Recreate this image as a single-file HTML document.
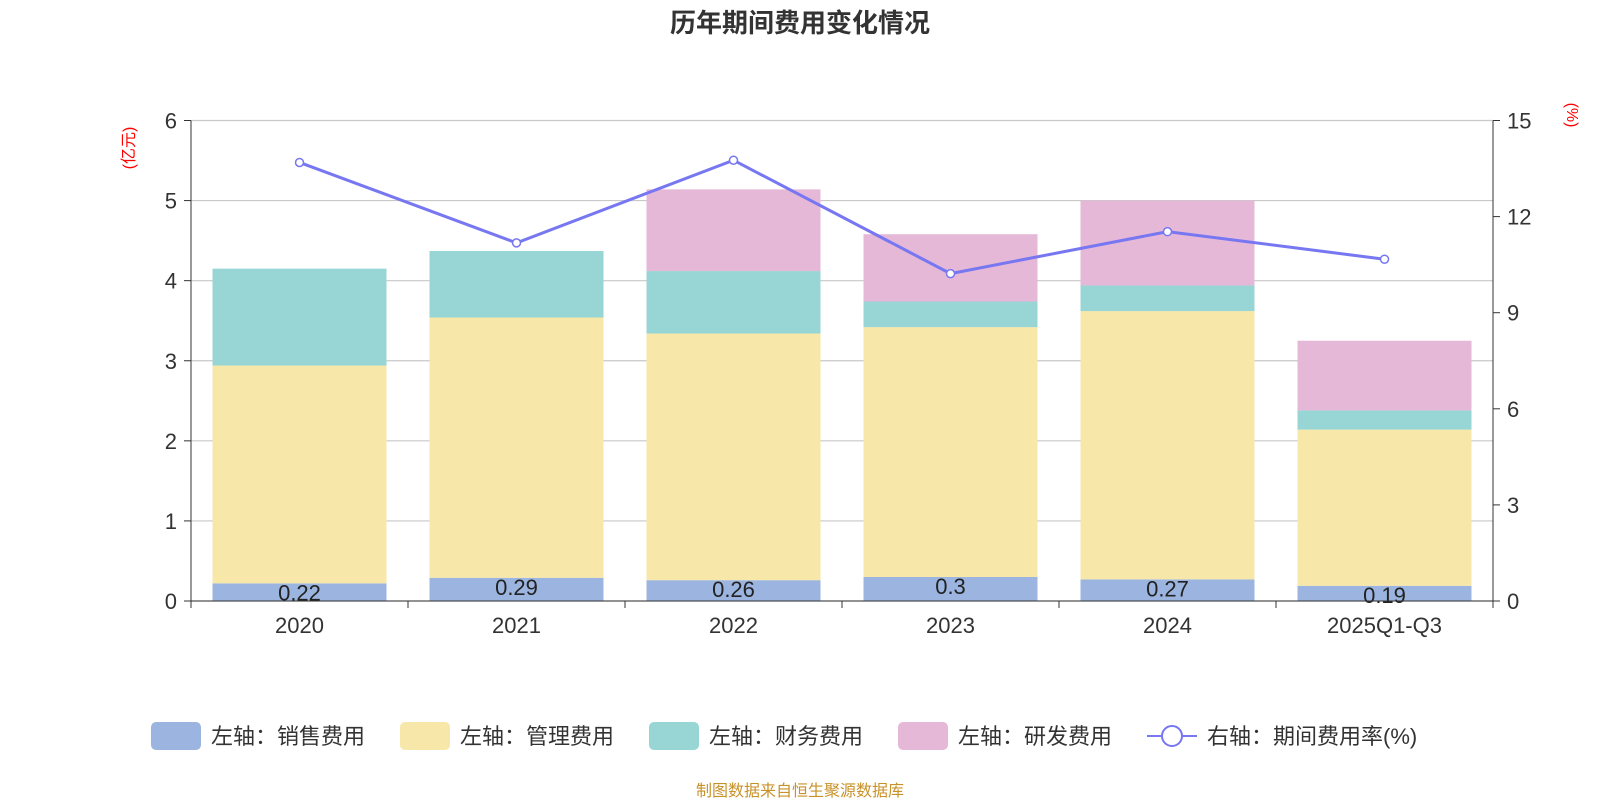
<!DOCTYPE html>
<html><head><meta charset="utf-8"><style>
body{margin:0;background:#fff;width:1600px;height:800px;overflow:hidden}
svg{font-family:"Liberation Sans","Noto Sans CJK SC",sans-serif}
</style></head><body>
<svg id="c" width="1600" height="800"></svg>
<script>
const categories=["2020","2021","2022","2023","2024","2025Q1-Q3"];
const sales=[0.22,0.29,0.26,0.30,0.27,0.19];
const mgmt=[2.72,3.25,3.08,3.12,3.35,1.95];
const fin=[1.21,0.83,0.78,0.32,0.32,0.24];
const rd=[0,0,1.02,0.84,1.06,0.87];
const rate=[13.69,11.18,13.76,10.22,11.53,10.67];
const leftTicks=[0,1,2,3,4,5,6];
const rightTicks=[0,3,6,9,12,15];
const salesLabels=["0.22","0.29","0.26","0.3","0.27","0.19"];

const NS="http://www.w3.org/2000/svg",svg=document.getElementById('c');
function el(t,a,txt){const e=document.createElementNS(NS,t);for(const k in a)e.setAttribute(k,a[k]);if(txt!=null)e.textContent=txt;svg.appendChild(e);return e;}
const X0=191,X1=1493,Y0=601,Y1=120.5;
const yL=v=>Y0-(v/6)*(Y0-Y1);
const yR=v=>Y0-(v/15)*(Y0-Y1);
const band=(X1-X0)/categories.length;
const xc=i=>X0+band*(i+0.5);
const bw=174;

let t=el('text',{x:800,y:32,'text-anchor':'middle','font-size':26,'font-weight':'bold',fill:'#333'},'历年期间费用变化情况');

leftTicks.forEach(v=>{
 const g=el('line',{x1:X0,x2:X1,y1:yL(v),y2:yL(v),stroke:'#c8c8c8','stroke-width':1.2});
 
 const l=el('text',{x:X0-14,y:yL(v)+8,'text-anchor':'end','font-size':22,fill:'#333'},v);
 
 el('line',{x1:X0-7,x2:X0,y1:yL(v),y2:yL(v),stroke:'#333'});
});
rightTicks.forEach(v=>{
 const l=el('text',{x:X1+14,y:yR(v)+8,'font-size':22,fill:'#333'},v);
 
 el('line',{x1:X1,x2:X1+7,y1:yR(v),y2:yR(v),stroke:'#333'});
});
el('line',{x1:X0,x2:X0,y1:Y1,y2:Y0,stroke:'#333'});
el('line',{x1:X1,x2:X1,y1:Y1,y2:Y0,stroke:'#333'});
let u=el('text',{x:0,y:0,'font-size':16,fill:'red',transform:`translate(134,148) rotate(-90)`,'text-anchor':'middle'},'(亿元)');

u=el('text',{x:0,y:0,'font-size':16,fill:'red',transform:`translate(1567,115) rotate(90)`,'text-anchor':'middle'},'(%)');


const series=[[sales,'#9bb5e0','sales'],[mgmt,'#f7e7a8','mgmt'],[fin,'#98d5d5','finance'],[rd,'#e6b8d8','rd']];
categories.forEach((c,i)=>{
 let base=0;
 series.forEach(([arr,col,nm])=>{
  const v=arr[i];if(v>0){
   const r=el('rect',{x:xc(i)-bw/2,y:yL(base+v),width:bw,height:yL(base)-yL(base+v),fill:col});
   
  }
  base+=v;
 });
 const s=el('text',{x:xc(i),y:yL(sales[i])+17,'text-anchor':'middle','font-size':22,fill:'#222'},salesLabels[i]);
 
 const cl=el('text',{x:xc(i),y:Y0+32,'text-anchor':'middle','font-size':22,fill:'#333'},c);
 
});
el('line',{x1:X0,x2:X1,y1:Y0,y2:Y0,stroke:'#333'});
for(let i=0;i<=categories.length;i++)el('line',{x1:X0+band*i,x2:X0+band*i,y1:Y0,y2:Y0+7,stroke:'#333'});
const pl=el('polyline',{points:rate.map((v,i)=>xc(i)+','+yR(v)).join(' '),fill:'none',stroke:'#7777f2','stroke-width':3});

rate.forEach((v,i)=>{const p=el('circle',{cx:xc(i),cy:yR(v),r:4,fill:'#fff',stroke:'#7777f2','stroke-width':1.5});
 });

const leg=[['左轴：销售费用','#9bb5e0',151],['左轴：管理费用','#f7e7a8',400],['左轴：财务费用','#98d5d5',649],['左轴：研发费用','#e6b8d8',898]];
leg.forEach(([n,c,x])=>{
 const r=el('rect',{x:x,y:722,width:50,height:28,rx:5,fill:c});
 
 const tx=el('text',{x:x+60,y:744,'font-size':22,fill:'#333'},n);
 
});
el('line',{x1:1147,x2:1197,y1:736,y2:736,stroke:'#7777f2','stroke-width':2});
const lc=el('circle',{cx:1172,cy:736,r:10,fill:'#fff',stroke:'#7777f2','stroke-width':2});

const lt=el('text',{x:1207,y:744,'font-size':22,fill:'#333'},'右轴：期间费用率(%)');

const f=el('text',{x:800,y:796,'text-anchor':'middle','font-size':16,fill:'#c8922a'},'制图数据来自恒生聚源数据库');

</script>
</body></html>
